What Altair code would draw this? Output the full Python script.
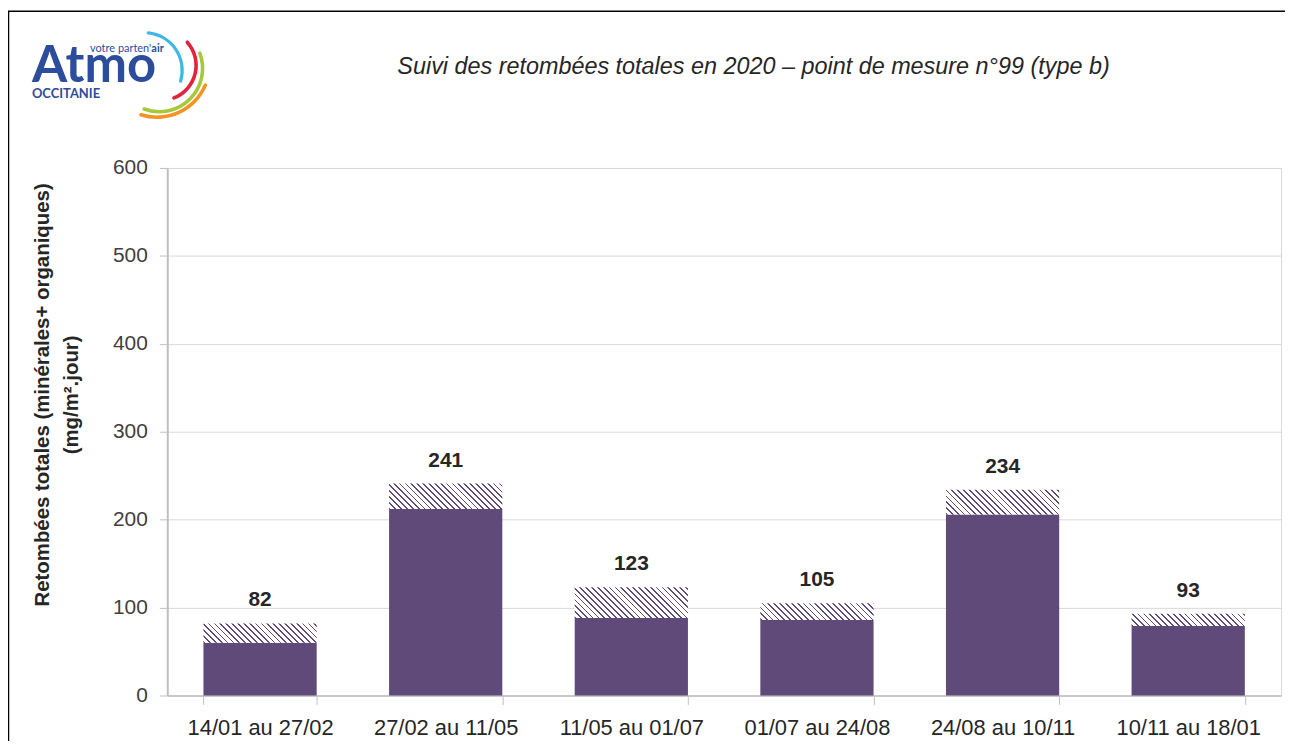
import math
import altair as alt
import pandas as pd

categories = ["14/01 au 27/02", "27/02 au 11/05", "11/05 au 01/07",
              "01/07 au 24/08", "24/08 au 10/11", "10/11 au 18/01"]
mineral = [60, 212, 88, 86, 206, 79]
total = [82, 241, 123, 105, 234, 93]

title_text = "Suivi des retombées totales en 2020 – point de mesure n°99 (type b)"
y_title = ["Retombées totales (minérales+ organiques)", "(mg/m².jour)"]
y_ticks = [0, 100, 200, 300, 400, 500, 600]

PURPLE = "#5f4a7a"
W, H = 1119, 530
P_IN, P_OUT = 0.39, 0.195
FONT = "Liberation Sans, Arial, sans-serif"
LOGO_FONT = "Lato, Open Sans, sans-serif"
LOGO_BLUE = "#2c4c9c"

df = pd.DataFrame({"cat": categories, "mineral": mineral, "total": total})
dummy = pd.DataFrame({"k": [0]})

xenc = alt.X("cat:N", sort=categories, title=None,
             scale=alt.Scale(paddingInner=P_IN, paddingOuter=P_OUT))
yscale = alt.Scale(domain=[0, 600], nice=False)

base = alt.Chart(df)

solid = base.mark_bar(color=PURPLE).encode(
    x=alt.X("cat:N", sort=categories, title=None,
            scale=alt.Scale(paddingInner=P_IN, paddingOuter=P_OUT),
            axis=alt.Axis(labelAngle=0, tickBand="extent", grid=False,
                          domainColor="#bfbfbf", domainWidth=1.5,
                          tickColor="#bfbfbf", tickSize=9, tickWidth=1,
                          labelFont=FONT, labelFontSize=22, labelColor="#262626",
                          labelPadding=13)),
    y=alt.Y("mineral:Q", title=None, scale=yscale,
            axis=alt.Axis(values=y_ticks, grid=True, gridColor="#d9d9d9",
                          domainColor="#bfbfbf", domainWidth=2,
                          tickColor="#bfbfbf", tickSize=8,
                          labelFont=FONT, labelFontSize=21, labelColor="#404040",
                          labelPadding=12)),
)


def hatch_gradient(w, h, period=5.9, frac=0.3):
    r = h / w
    k = (1 + r) / (1 + r * r)
    n_per = (w + h) / period
    stops = []
    i = 0
    while i / n_per < 1:
        a = i / n_per
        b = min((i + frac) / n_per, 1.0)
        c = min((i + 1) / n_per, 1.0)
        stops += [alt.GradientStop(offset=a, color=PURPLE),
                  alt.GradientStop(offset=b, color=PURPLE),
                  alt.GradientStop(offset=b, color="white"),
                  alt.GradientStop(offset=c, color="white")]
        i += 1
    return alt.Gradient(gradient="linear", stops=stops,
                        x1=0, y1=1, x2=k, y2=1 - k * r)


bar_w = W / (len(categories) - P_IN + 2 * P_OUT) * (1 - P_IN)
hatch_layers = []
for c, m, t in zip(categories, mineral, total):
    h_px = (t - m) * H / 600
    hatch_layers.append(
        base.transform_filter(alt.datum.cat == c)
        .mark_bar(color=hatch_gradient(bar_w, h_px))
        .encode(x=xenc, y=alt.Y("mineral:Q", scale=yscale, title=None), y2="total:Q")
    )

labels = base.mark_text(dy=-17, baseline="alphabetic", font=FONT, fontSize=21,
                        fontWeight="bold", color="#262626").encode(
    x=xenc, y=alt.Y("total:Q", scale=yscale, title=None), text="total:Q")

dec = alt.Chart(dummy)
frame = dec.mark_rect(fillOpacity=0, stroke="black", strokeWidth=1.5).encode(
    x=alt.value(-159.5), x2=alt.value(1400), y=alt.value(-157.5), y2=alt.value(900))

title = dec.mark_text(font=FONT, fontSize=23.5, fontStyle="italic", color="#262626",
                      align="center", baseline="middle").encode(
    x=alt.value(589), y=alt.value(-101), text=alt.value(title_text))

ytitle = dec.mark_text(font=FONT, fontSize=20.5, fontWeight="bold", color="#262626",
                       angle=270, align="center", baseline="middle",
                       lineHeight=29).encode(
    x=alt.value(-125), y=alt.value(228), text=alt.value(y_title))

logo_atmo = dec.mark_text(font=LOGO_FONT, fontSize=51, fontWeight="bold", color=LOGO_BLUE,
                          align="left", baseline="alphabetic").encode(
    x=alt.value(-136), y=alt.value(-86), text=alt.value("Atmo"))
logo_votre = dec.mark_text(font=LOGO_FONT, fontSize=11, color=LOGO_BLUE,
                           align="right", baseline="alphabetic").encode(
    x=alt.value(-16), y=alt.value(-117), text=alt.value("votre parten'"))
logo_air = dec.mark_text(font=LOGO_FONT, fontSize=11, fontWeight="bold", color=LOGO_BLUE,
                         align="left", baseline="alphabetic").encode(
    x=alt.value(-16), y=alt.value(-117), text=alt.value("air"))
logo_occ = dec.mark_text(font=LOGO_FONT, fontSize=13, fontWeight="bold", color=LOGO_BLUE,
                         align="left", baseline="alphabetic").encode(
    x=alt.value(-136), y=alt.value(-70), text=alt.value("OCCITANIE"))


def arc(cx, cy, r, t1, t2, color, half=1.8):
    return dec.mark_arc(color=color, cornerRadius=2).encode(
        x=alt.value(cx - 168), y=alt.value(cy - 167),
        theta=alt.value(t1), theta2=alt.value(t2),
        radius=alt.value(r + half), radius2=alt.value(r - half))


arcs = [
    arc(145, 69, 38, 0.06, 1.9, "#3db7e4", 1.6),
    arc(162, 64, 35, 0.79, 2.82, "#e2233b"),
    arc(160, 67, 43.5, 1.17, 3.54, "#a5c93b"),
    arc(157.5, 63, 53, 1.94, 3.48, "#f39322"),
]

chart = alt.layer(
    solid, *hatch_layers, labels, frame, title, ytitle,
    logo_atmo, logo_votre, logo_air, logo_occ, *arcs
).properties(
    width=W, height=H,
    padding={"left": 160, "top": 159, "right": 4, "bottom": 44},
    autosize=alt.AutoSizeParams(type="none"),
).configure_view(stroke="#d9d9d9", strokeWidth=1)

chart.save("out.html", embed_options={"renderer": "svg", "actions": False})
